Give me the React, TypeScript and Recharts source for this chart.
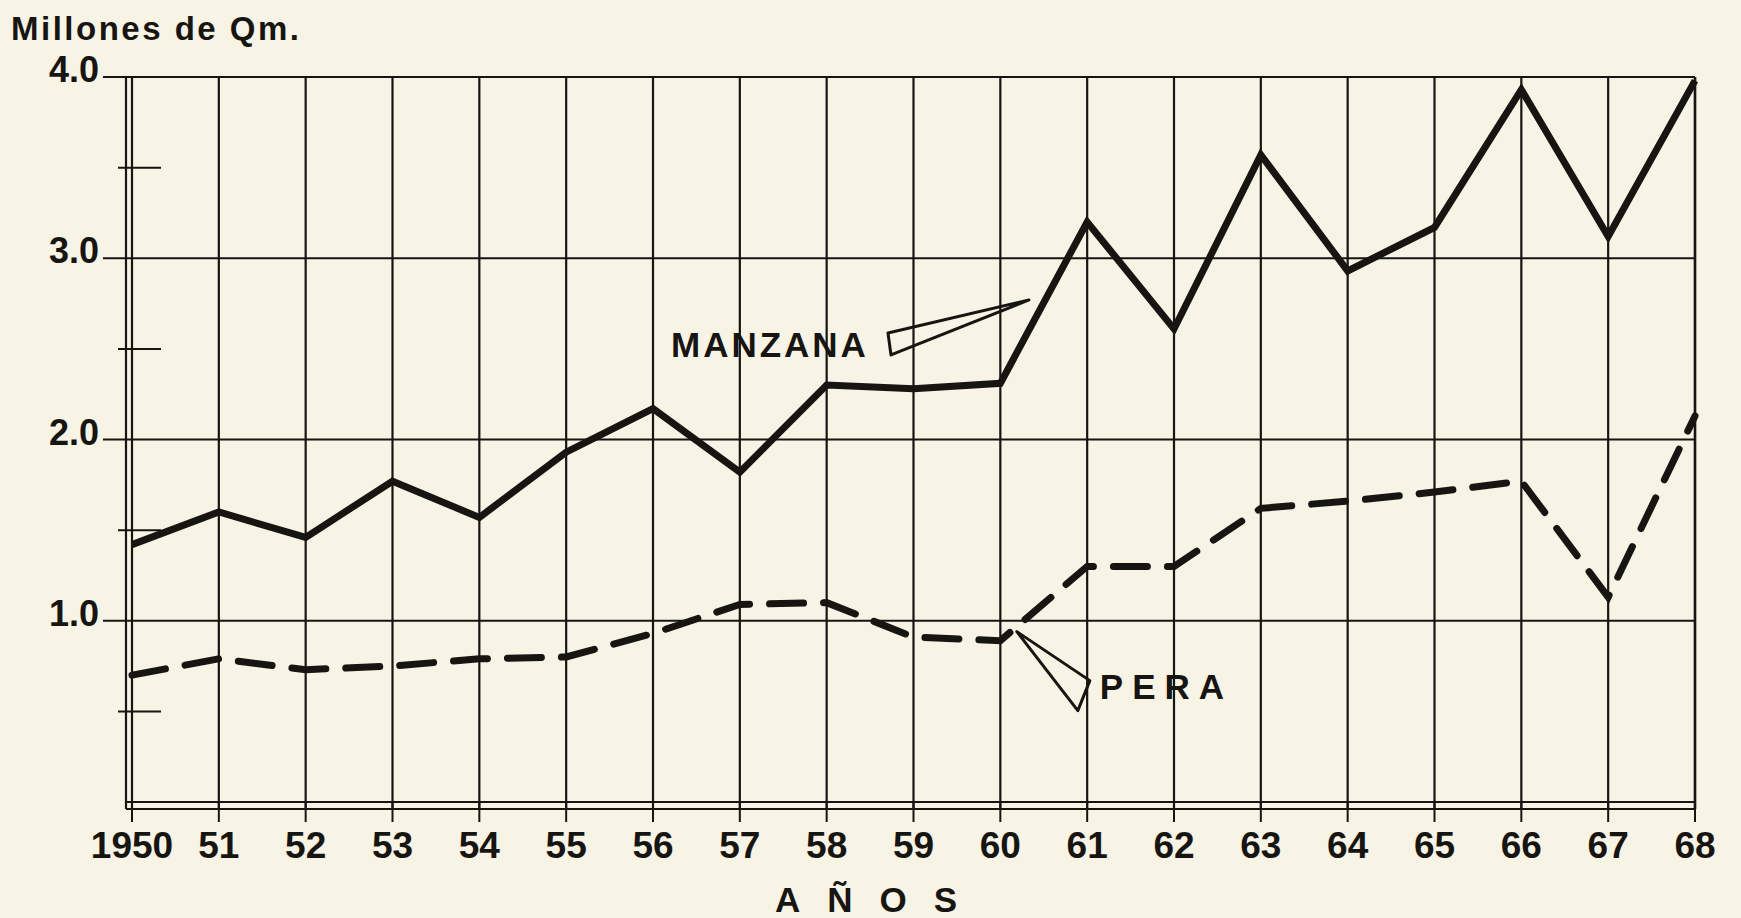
import {
  LineChart,
  Line,
  XAxis,
  YAxis,
  CartesianGrid,
  ReferenceLine,
  ReferenceDot,
} from "recharts";

// Producción de manzana y pera, millones de Qm
const years = [
  1950, 1951, 1952, 1953, 1954, 1955, 1956, 1957, 1958, 1959,
  1960, 1961, 1962, 1963, 1964, 1965, 1966, 1967, 1968,
];
const yearLabels = [
  "1950", "51", "52", "53", "54", "55", "56", "57", "58", "59",
  "60", "61", "62", "63", "64", "65", "66", "67", "68",
];
const manzana = [
  1.42, 1.6, 1.46, 1.77, 1.57, 1.93, 2.17, 1.82, 2.3, 2.28,
  2.31, 3.2, 2.61, 3.57, 2.93, 3.17, 3.93, 3.12, 3.98,
];
const pera = [
  0.7, 0.79, 0.73, 0.75, 0.79, 0.8, 0.93, 1.09, 1.1, 0.91,
  0.89, 1.3, 1.3, 1.62, 1.66, 1.71, 1.77, 1.13, 2.13,
];
const yTicks = [0, 0.5, 1, 1.5, 2, 2.5, 3, 3.5, 4];
const yLines = [0, 1, 2, 3, 4];
const yLabels: Record<number, string> = { 1: "1.0", 2: "2.0", 3: "3.0", 4: "4.0" };

// where the label pointers touch the lines
const manzanaTip = { x: 1960.33, y: 2.77 };
const peraTip = { x: 1960.19, y: 0.94 };

const INK = "#171512";
const PAPER = "#f7f3e5";
const FONT = "'Liberation Sans', Arial, sans-serif";

const data = years.map((year, i) => ({ year, manzana: manzana[i], pera: pera[i] }));

function XTick(props: any) {
  const { x, y, payload } = props;
  const label = yearLabels[years.indexOf(payload.value)];
  return (
    <g>
      <line x1={x} y1={y - 7} x2={x} y2={y + 13} stroke={INK} strokeWidth={2} />
      <text x={x} y={y + 49} textAnchor="middle" fontSize={37} fontWeight={700} fill={INK} fontFamily={FONT}>
        {label}
      </text>
    </g>
  );
}

function LeftTick(props: any) {
  const { x, y, payload } = props;
  const v = payload.value;
  if (v === 0) return <g />;
  if (v % 1 !== 0) {
    return <line x1={x - 8} y1={y} x2={x + 35} y2={y} stroke={INK} strokeWidth={2} />;
  }
  return (
    <g>
      <line x1={x - 23} y1={y} x2={x} y2={y} stroke={INK} strokeWidth={2} />
      <text x={x - 27} y={y + 5} textAnchor="end" fontSize={36} fontWeight={700} fill={INK} fontFamily={FONT}>
        {yLabels[v]}
      </text>
    </g>
  );
}

function RightTick(props: any) {
  const { x, y, payload } = props;
  if (payload.value % 1 === 0) return <g />;
  return <line x1={x - 30} y1={y} x2={x + 6} y2={y} stroke={INK} strokeWidth={2} />;
}

function ManzanaMarker(p: any) {
  const { cx, cy } = p;
  return (
    <g>
      <polygon
        points={`${cx},${cy} ${cx - 141},${cy + 33} ${cx - 138},${cy + 55}`}
        fill="none"
        stroke={INK}
        strokeWidth={3}
        strokeLinejoin="round"
      />
      <text x={cx - 358} y={cy + 57} fontSize={35} fontWeight={700} letterSpacing={3} fill={INK} fontFamily={FONT}>
        MANZANA
      </text>
    </g>
  );
}

function PeraMarker(p: any) {
  const { cx, cy } = p;
  return (
    <g>
      <polygon
        points={`${cx},${cy} ${cx + 73},${cy + 49} ${cx + 61},${cy + 79}`}
        fill="none"
        stroke={INK}
        strokeWidth={3}
        strokeLinejoin="round"
      />
      <text x={cx + 83} y={cy + 67} fontSize={35} fontWeight={700} letterSpacing={9} fill={INK} fontFamily={FONT}>
        PERA
      </text>
    </g>
  );
}

export default function App() {
  return (
    <div style={{ position: "relative", width: 1741, height: 918, background: PAPER }}>
      <style>{"body{margin:0}"}</style>
      <LineChart width={1741} height={918} data={data} margin={{ top: 77, right: 6, bottom: 9, left: 26 }}>
        <CartesianGrid yAxisId="left" horizontal={false} stroke={INK} strokeWidth={2.2} />
        <XAxis
          dataKey="year"
          type="number"
          domain={[1950, 1968]}
          ticks={years}
          interval={0}
          padding={{ left: 6, right: 0 }}
          height={100}
          tickSize={0}
          tickMargin={0}
          tickLine={false}
          axisLine={{ stroke: INK, strokeWidth: 2 }}
          tick={<XTick />}
        />
        <YAxis
          yAxisId="left"
          type="number"
          domain={[0, 4]}
          ticks={yTicks}
          interval={0}
          width={100}
          padding={{ top: 0, bottom: 7 }}
          tickSize={0}
          tickMargin={0}
          tickLine={false}
          axisLine={{ stroke: INK, strokeWidth: 2 }}
          tick={<LeftTick />}
        />
        <YAxis
          yAxisId="right"
          orientation="right"
          type="number"
          domain={[0, 4]}
          ticks={yTicks}
          interval={0}
          width={40}
          padding={{ top: 0, bottom: 7 }}
          tickSize={0}
          tickMargin={0}
          tickLine={false}
          axisLine={{ stroke: INK, strokeWidth: 2.5 }}
          tick={<RightTick />}
        />
        {yLines.map((v) => (
          <ReferenceLine key={v} yAxisId="left" y={v} stroke={INK} strokeWidth={2} />
        ))}
        <Line
          yAxisId="left"
          dataKey="pera"
          stroke={INK}
          strokeWidth={7}
          strokeDasharray="34 20"
          strokeLinecap="round"
          dot={false}
          activeDot={false}
          isAnimationActive={false}
        />
        <Line
          yAxisId="left"
          dataKey="manzana"
          stroke={INK}
          strokeWidth={7}
          strokeLinejoin="miter"
          dot={false}
          activeDot={false}
          isAnimationActive={false}
        />
        <ReferenceDot yAxisId="left" x={manzanaTip.x} y={manzanaTip.y} r={0} shape={(p: any) => <ManzanaMarker {...p} />} />
        <ReferenceDot yAxisId="left" x={peraTip.x} y={peraTip.y} r={0} shape={(p: any) => <PeraMarker {...p} />} />
      </LineChart>
      <svg width={1741} height={918} style={{ position: "absolute", left: 0, top: 0, pointerEvents: "none" }}>
        <text x={11} y={40} fontSize={33} fontWeight={700} letterSpacing={2.5} fill={INK} fontFamily={FONT}>
          Millones de Qm.
        </text>
        <text x={775} y={912} fontSize={35} fontWeight={700} letterSpacing={27} fill={INK} fontFamily={FONT}>
          AÑOS
        </text>
      </svg>
    </div>
  );
}
